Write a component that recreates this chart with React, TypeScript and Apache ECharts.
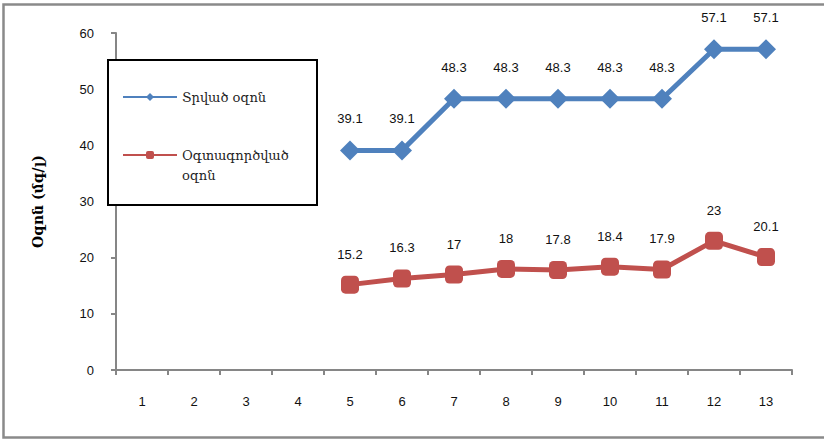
import React, { useEffect, useRef } from "react";
import * as echarts from "echarts";

// Sample numbers along the x axis
const categories = ["1", "2", "3", "4", "5", "6", "7", "8", "9", "10", "11", "12", "13"];
// Ozone dose supplied (mg/l); samples 1-4 have no measurement
const suppliedOzone = [null, null, null, null, 39.1, 39.1, 48.3, 48.3, 48.3, 48.3, 48.3, 57.1, 57.1];
// Ozone consumed (mg/l)
const usedOzone = [null, null, null, null, 15.2, 16.3, 17, 18, 17.8, 18.4, 17.9, 23, 20.1];

const seriesNames = ["Տրված օզոն", "Օգտագործված օզոն"];
const yAxisTitle = "Օզոն (մգ/լ)";

const ARM_FONT = "'DejaVu Serif', serif";
const NUM_FONT = "'Liberation Sans', 'Open Sans', sans-serif";
const AXIS_GRAY = "#868686";

export default function App() {
  const ref = useRef<HTMLDivElement>(null);

  useEffect(() => {
    document.body.style.margin = "0";
    const chart = echarts.init(ref.current!, null, { renderer: "svg" });
    const labelCommon = {
      show: true,
      position: "top" as const,
      distance: 15,
      fontFamily: NUM_FONT,
      fontSize: 13,
      color: "#111",
    };
    chart.setOption({
      animation: false,
      backgroundColor: "#fff",
      grid: { left: 116, right: 32, top: 33, bottom: 70, containLabel: false },
      graphic: [
        {
          type: "rect",
          z: -10,
          silent: true,
          shape: { x: 3.5, y: 4.5, width: 900, height: 433 },
          style: { fill: "none", stroke: "#8a8a8a", lineWidth: 2.5 },
        },
        {
          type: "rect",
          z: 9,
          silent: true,
          shape: { x: 108, y: 60, width: 209, height: 145 },
          style: { fill: "#fff", stroke: "#000", lineWidth: 2 },
        },
      ],
      legend: {
        z: 10,
        orient: "vertical",
        left: 122,
        top: 87,
        itemWidth: 54,
        itemHeight: 10,
        itemGap: 18,
        padding: 0,
        textStyle: { fontFamily: ARM_FONT, fontSize: 13, color: "#222", lineHeight: 20 },
        // second entry wraps onto two lines, first line level with its icon
        formatter: (name: string) => (name === seriesNames[1] ? "\u00a0\nՕգտագործված\nօզոն" : name),
        data: [seriesNames[0], seriesNames[1]],
      },
      xAxis: {
        type: "category",
        data: categories,
        boundaryGap: true,
        axisLine: { lineStyle: { color: AXIS_GRAY, width: 2 } },
        axisTick: { show: true, length: 5, lineStyle: { color: AXIS_GRAY, width: 2 } },
        axisLabel: { margin: 25, fontFamily: NUM_FONT, fontSize: 13, color: "#111" },
        splitLine: { show: false },
      },
      yAxis: {
        type: "value",
        min: 0,
        max: 60,
        interval: 10,
        name: yAxisTitle,
        nameLocation: "middle",
        nameRotate: 90,
        nameGap: 71,
        nameTextStyle: { fontFamily: ARM_FONT, fontSize: 14, fontWeight: "bold", color: "#000" },
        axisLine: { show: true, lineStyle: { color: AXIS_GRAY, width: 2 } },
        axisTick: { show: true, length: 5, lineStyle: { color: AXIS_GRAY, width: 2 } },
        axisLabel: { margin: 22, fontFamily: NUM_FONT, fontSize: 13, color: "#111" },
        splitLine: { show: false },
      },
      series: [
        {
          name: seriesNames[0],
          type: "line",
          data: suppliedOzone,
          symbol: "diamond",
          symbolSize: 20,
          lineStyle: { color: "#4F81BD", width: 5 },
          itemStyle: { color: "#4F81BD" },
          label: labelCommon,
          z: 3,
        },
        {
          name: seriesNames[1],
          type: "line",
          data: usedOzone,
          symbol: "roundRect",
          symbolSize: 18,
          lineStyle: { color: "#C0504D", width: 5 },
          itemStyle: { color: "#C0504D" },
          label: labelCommon,
          z: 3,
        },
      ],
    });
    return () => chart.dispose();
  }, []);

  return <div ref={ref} style={{ position: "absolute", left: 0, top: 0, width: 824, height: 440 }} />;
}
